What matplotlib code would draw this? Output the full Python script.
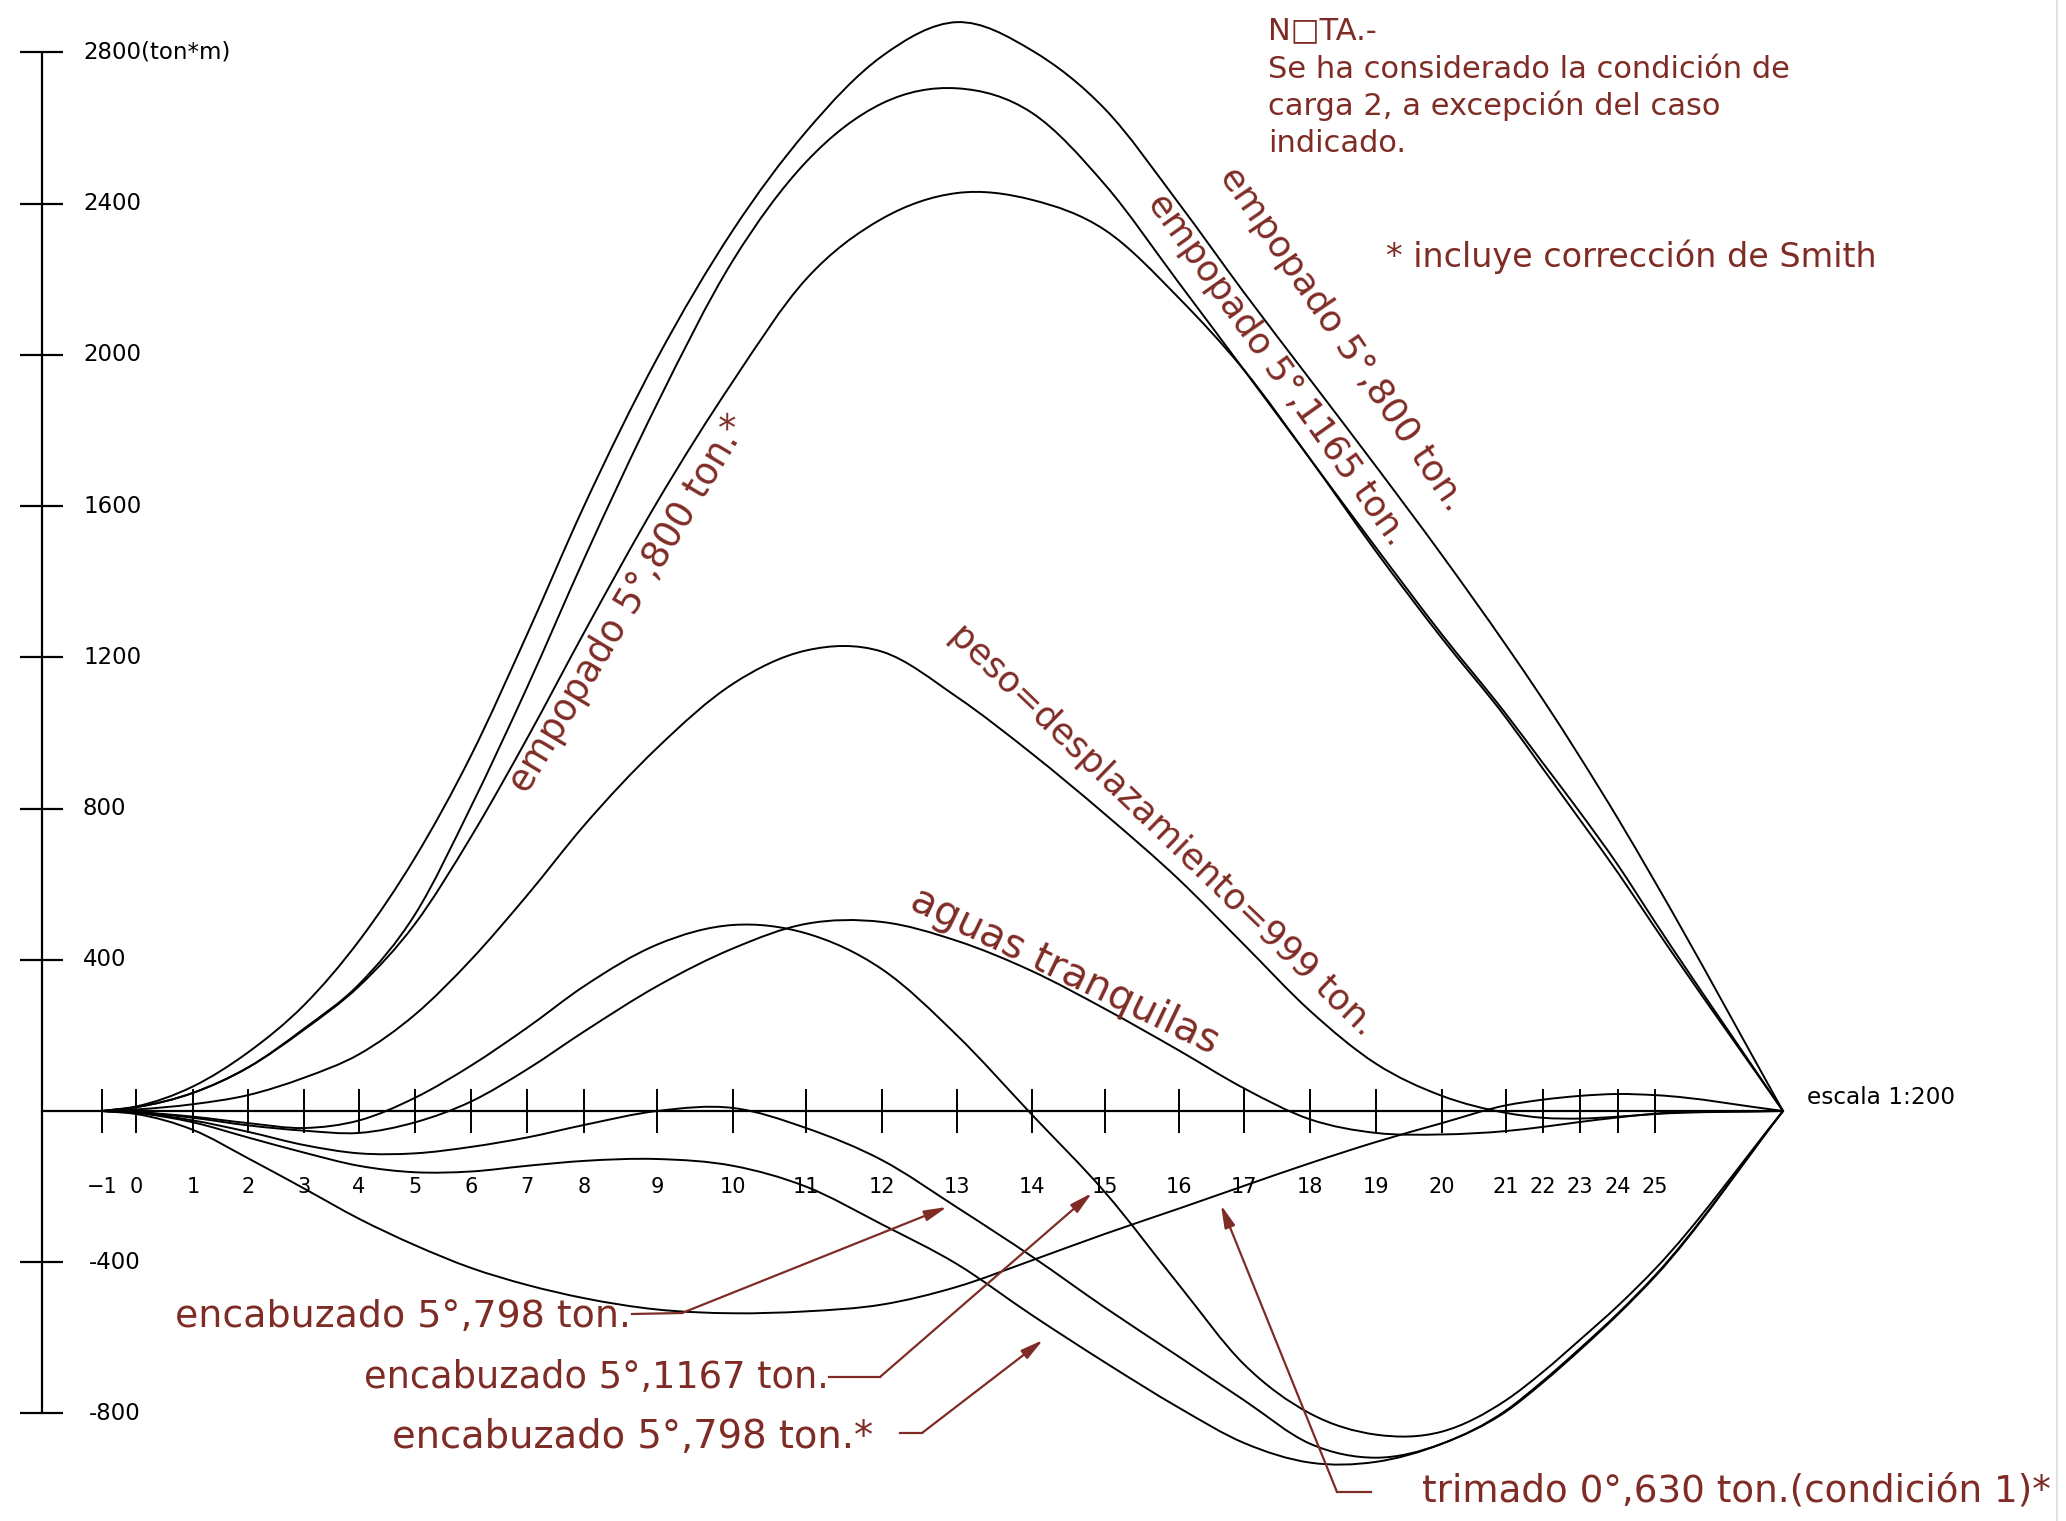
import numpy as np
import matplotlib
matplotlib.use('Agg')
import matplotlib.pyplot as plt
import matplotlib.transforms as mtransforms
from matplotlib.path import Path
from matplotlib.patches import PathPatch

ANCHO, ALTO = 2066, 1521
Y0 = 1111          # fila del plano donde va la línea de momento nulo
K = 2.645          # ton*m por pixel en vertical
MARRON = '#7e2c25'

# cuadernas y su abscisa sobre el plano (cm, escala 1:200)
cuadernas = ['\u22121', '0', '1', '2', '3', '4', '5', '6', '7', '8', '9', '10',
             '11', '12', '13', '14', '15', '16', '17', '18', '19', '20',
             '21', '22', '23', '24', '25']
x_cuad = [10.2, 13.6, 19.3, 24.8, 30.4, 35.9, 41.5, 47.1, 52.7, 58.4, 65.7,
          73.3, 80.6, 88.2, 95.7, 103.2, 110.5, 117.9, 124.4, 131.0, 137.6,
          144.2, 150.6, 154.3, 158.0, 161.8, 165.5]
x_extremo = 178.3
x_eje = 4.2

escala_y = [2800, 2400, 2000, 1600, 1200, 800, 400, -400, -800]
rotulos_y = ['2800(ton*m)', '2400', '2000', '1600', '1200', '800', '400',
             '-400', '-800']

# momento flector (ton*m) en cada cuaderna; el último valor es el extremo
empopado_800 = [0, 12, 65, 155, 280, 450, 670, 940, 1260, 1600, 1990, 2330,
                2590, 2790, 2880, 2805, 2650, 2400, 2165, 1935, 1705, 1470,
                1232, 1088, 936, 773, 606, 0]
empopado_1165 = [0, 10, 48, 115, 218, 335, 520, 805, 1120, 1460, 1870, 2250,
                 2510, 2665, 2705, 2640, 2450, 2190, 1960, 1725, 1490, 1260,
                 1050, 920, 790, 650, 500, 0]
empopado_800_smith = [0, 10, 48, 115, 215, 330, 495, 725, 985, 1265, 1610,
                      1930, 2200, 2360, 2428, 2410, 2330, 2150, 1960, 1725,
                      1480, 1250, 1040, 905, 770, 630, 485, 0]
peso_desplazamiento = [0, 4, 18, 42, 88, 150, 255, 400, 570, 755, 960, 1130,
                       1218, 1215, 1095, 945, 785, 612, 440, 265, 125, 40,
                       -5, -18, -20, -15, -8, 0]
aguas_tranquilas = [0, -3, -18, -38, -52, -58, -30, 25, 110, 210, 330, 430,
                    495, 500, 450, 370, 270, 160, 60, -22, -58, -62, -53, -42,
                    -29, -17, -7, 0]
encabuzado_1167 = [0, -3, -15, -32, -45, -25, 35, 120, 220, 330, 440, 492,
                   470, 375, 200, -10, -215, -460, -670, -800, -856, -848,
                   -765, -690, -605, -515, -418, 0]
encabuzado_798 = [0, -5, -25, -55, -90, -112, -112, -95, -70, -37, 0, 8, -45,
                  -130, -255, -385, -520, -650, -765, -880, -917, -880, -792,
                  -714, -628, -535, -435, 0]
encabuzado_798_smith = [0, -5, -30, -70, -110, -145, -162, -160, -145, -132,
                        -127, -145, -200, -300, -405, -540, -665, -785, -878,
                        -930, -928, -880, -795, -718, -632, -538, -438, 0]
trimado_630 = [0, -8, -50, -125, -205, -285, -355, -415, -460, -495, -525,
               -535, -530, -512, -465, -395, -325, -258, -198, -138, -82,
               -32, 15, 30, 40, 45, 42, 0]

curvas = [empopado_800, empopado_1165, empopado_800_smith, peso_desplazamiento,
          aguas_tranquilas, encabuzado_1167, encabuzado_798,
          encabuzado_798_smith, trimado_630]
x_curva = x_cuad + [x_extremo]


def trazo(x, y):
    # curva suave (Bezier cúbica) que pasa por los valores de cada cuaderna
    x = np.asarray(x, float)
    y = np.asarray(y, float)
    h = np.diff(x)
    d = np.diff(y) / h
    m = np.empty(len(x))
    m[0], m[-1] = d[0], d[-1]
    m[1:-1] = (d[:-1] * h[1:] + d[1:] * h[:-1]) / (h[:-1] + h[1:])
    verts = [(x[0], y[0])]
    codes = [Path.MOVETO]
    for i in range(len(h)):
        verts += [(x[i] + h[i] / 3, y[i] + m[i] * h[i] / 3),
                  (x[i + 1] - h[i] / 3, y[i + 1] - m[i + 1] * h[i] / 3),
                  (x[i + 1], y[i + 1])]
        codes += [Path.CURVE4] * 3
    return Path(verts, codes)


fig = plt.figure(figsize=(ANCHO / 100, ALTO / 100), dpi=100)
ax = fig.add_axes([0, 0, 1, 1])
ax.set_xlim(0, ANCHO / 10)
ax.set_ylim(-(ALTO - Y0) * K, Y0 * K)
ax.axis('off')

# pixeles del plano (origen arriba a la izquierda)
T = mtransforms.Affine2D().scale(1, -1).translate(0, ALTO)
rend = fig.canvas.get_renderer()

### Eje vertical ###
ax.vlines(x_eje, min(escala_y), max(escala_y), color='black', lw=1.6)
ax.hlines(escala_y, x_eje - 2.2, x_eje + 2.1, color='black', lw=1.6)
for v, r in zip(escala_y, rotulos_y):
    ax.text(8.3 if v > 0 else 8.9, v, r, ha='left', va='center',
            fontsize=16.5, family='DejaVu Sans')

### Línea base y cuadernas ###
ax.plot([x_eje, x_extremo], [0, 0], color='black', lw=1.6)
ax.vlines(x_cuad, -58, 58, color='black', lw=1.4)
for c, x in zip(cuadernas, x_cuad):
    ax.text(x, -(1187 - Y0) * K, c, ha='center', va='center', fontsize=15,
            family='DejaVu Sans')

### Curvas ###
for serie in curvas:
    ax.add_patch(PathPatch(trazo(x_curva, serie), fill=False, ec='black',
                           lw=1.4, joinstyle='round', capstyle='round'))


def rotulo(s, x0, y0, x1, y1, color=MARRON, size=None):
    # texto que arranca en (x0,y0) siguiendo la recta hacia (x1,y1);
    # sin tamaño dado se ajusta al largo de esa recta
    t = fig.text(0, 0, s, transform=T, fontsize=20, color=color,
                 family='DejaVu Sans', ha='center', va='center',
                 rotation_mode='anchor')
    if size is None:
        largo = np.hypot(x1 - x0, y1 - y0)
        size = 20 * largo / t.get_window_extent(rend).width
    t.set_fontsize(size)
    w = t.get_window_extent(rend).width
    ang = np.arctan2(y1 - y0, x1 - x0)
    t.set_position((x0 + np.cos(ang) * w / 2, y0 + np.sin(ang) * w / 2))
    t.set_rotation(-np.degrees(ang))
    return size


def flecha(puntos):
    xs, ys = zip(*puntos)
    fig.add_artist(plt.Line2D(xs[:-1], ys[:-1], transform=T, color=MARRON,
                              lw=1.6))
    ax.annotate('', xy=puntos[-1], xycoords=T, xytext=puntos[-2],
                textcoords=T,
                arrowprops=dict(arrowstyle='-|>,head_length=0.75,head_width=0.18',
                                color=MARRON, lw=1.6, shrinkA=0, shrinkB=0,
                                mutation_scale=18))


### Nota ###
NOTA = 22
rotulo('N\u25a1TA.-', 1268, 31, 1360, 31, size=NOTA)
rotulo('Se ha considerado la condición de', 1268, 69, 1947, 69, size=NOTA)
rotulo('carga 2, a excepción del caso', 1268, 106, 1880, 106, size=NOTA)
rotulo('indicado.', 1268, 143, 1427, 143, size=NOTA)
rotulo('* incluye corrección de Smith', 1386, 257, 1976, 257, size=24)

### Rótulos de las curvas ###
rotulo('empopado 5°,800 ton.', 1227, 170, 1458, 508)
rotulo('empopado 5°,1165 ton.', 1155, 197, 1400, 542)
rotulo('empopado 5°,800 ton.*', 518, 790, 740, 419)
rotulo('peso=desplazamiento=999 ton.', 955, 630, 1370, 1030)
rotulo('aguas tranquilas', 913, 898, 1218, 1045)

rotulo('encabuzado 5°,798 ton.', 175, 1317, 631, 1317)
rotulo('encabuzado 5°,1167 ton.', 364, 1378, 829, 1378)
rotulo('encabuzado 5°,798 ton.*', 392, 1437, 874, 1437)
rotulo('trimado 0°,630 ton.(condición 1)*', 1422, 1491, 2051, 1491)

flecha([(632, 1314), (682, 1313), (947, 1207)])
flecha([(829, 1377), (880, 1377), (1092, 1193)])
flecha([(900, 1433), (922, 1433), (1043, 1340)])
flecha([(1371, 1492), (1337, 1492), (1221, 1205)])

rotulo('escala 1:200', 1807, 1097, 1955, 1097, color='black')

# borde del pliego
fig.add_artist(plt.Line2D([2057, 2057], [0, ALTO], transform=T,
                          color='#e2e2e2', lw=1.5))

plt.savefig('out.png', dpi=100, facecolor='white')
